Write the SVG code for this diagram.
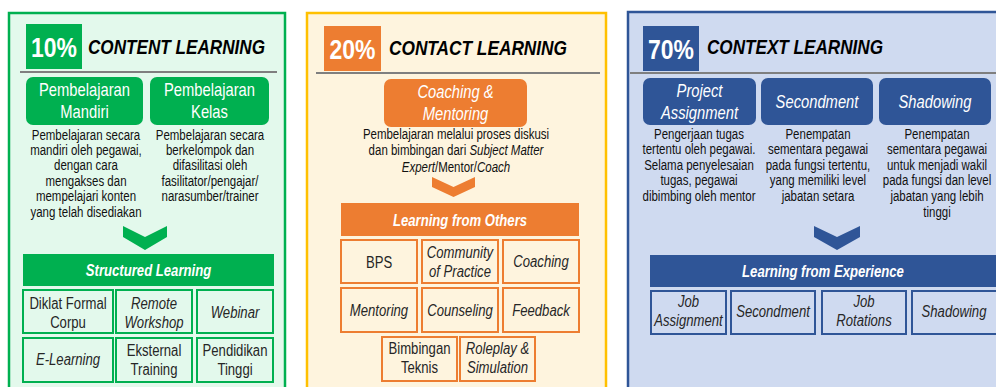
<svg xmlns="http://www.w3.org/2000/svg" width="996" height="387" viewBox="0 0 996 387">
<style>
text{font-family:"Liberation Sans",Arial,sans-serif;}
.pct{font-size:28px;font-weight:bold;fill:#fff;text-anchor:middle;}
.ttl{font-size:21px;font-weight:bold;font-style:italic;fill:#000;}
.btn{font-size:18px;fill:#fff;text-anchor:middle;}
.desc{font-size:14px;fill:#111;text-anchor:middle;}
.bar{font-size:16px;font-weight:bold;font-style:italic;fill:#fff;text-anchor:middle;}
.cell{font-size:16px;fill:#262626;text-anchor:middle;}
.it{font-style:italic;}
.sep{stroke:#7f7f7f;stroke-width:2;}
.gcell{fill:#e3f9ec;stroke:#00b050;stroke-width:2;}
.ocell{fill:#fef4de;stroke:#ed7d31;stroke-width:2;}
.bcell{fill:#cfdaf0;stroke:#2f5597;stroke-width:2;}
</style>
<rect width="996" height="387" fill="#fff"/>

<g id="panel-content">
<rect x="9" y="13" width="276" height="390" fill="#e3f9ec" stroke="#00b050" stroke-width="2.5"/>
<rect x="26" y="24" width="56" height="45" fill="#00b050"/>
<text class="pct" transform="translate(54,57) scale(.82,1)">10%</text>
<text class="ttl" x="88" y="54" textLength="177" lengthAdjust="spacingAndGlyphs">CONTENT LEARNING</text>
<line class="sep" x1="20" y1="72" x2="277" y2="72"/>
</g>
<g id="btn-mandiri">
<rect x="26" y="77" width="117" height="48" rx="7" fill="#00b050"/>
<text class="btn" transform="translate(84.5,96) scale(.82,1)">Pembelajaran</text>
<text class="btn" transform="translate(84.5,118) scale(.82,1)">Mandiri</text>
</g>
<g id="btn-kelas">
<rect x="150" y="77" width="119" height="48" rx="7" fill="#00b050"/>
<text class="btn" transform="translate(209.5,96) scale(.82,1)">Pembelajaran</text>
<text class="btn" transform="translate(209.5,118) scale(.82,1)">Kelas</text>
</g>
<g id="desc-mandiri">
<text class="desc" transform="translate(86,140) scale(.82,1)">Pembelajaran secara</text>
<text class="desc" transform="translate(86,155) scale(.82,1)">mandiri oleh pegawai,</text>
<text class="desc" transform="translate(86,170) scale(.82,1)">dengan cara</text>
<text class="desc" transform="translate(86,186) scale(.82,1)">mengakses dan</text>
<text class="desc" transform="translate(86,201) scale(.82,1)">mempelajari konten</text>
<text class="desc" transform="translate(86,217) scale(.82,1)">yang telah disediakan</text>
</g>
<g id="desc-kelas">
<text class="desc" transform="translate(210,140) scale(.82,1)">Pembelajaran secara</text>
<text class="desc" transform="translate(210,155) scale(.82,1)">berkelompok dan</text>
<text class="desc" transform="translate(210,170) scale(.82,1)">difasilitasi oleh</text>
<text class="desc" transform="translate(210,186) scale(.82,1)">fasilitator/pengajar/</text>
<text class="desc" transform="translate(210,201) scale(.82,1)">narasumber/trainer</text>
</g>
<g id="chev-green"><polygon points="123,226 145,237 167,226 167,237 145,250 123,237" fill="#00b050"/></g>
<g id="bar-structured">
<rect x="23" y="254" width="251" height="32" fill="#00b050"/>
<text class="bar" transform="translate(148.5,276) scale(.82,1)">Structured Learning</text>
</g>
<g id="c-diklat"><rect class="gcell" x="23" y="290" width="90" height="43"/><text class="cell" transform="translate(68,309) scale(.82,1)">Diklat Formal</text><text class="cell" transform="translate(68,328) scale(.82,1)">Corpu</text></g>
<g id="c-remote"><rect class="gcell" x="116" y="290" width="76" height="43"/><text class="cell it" transform="translate(154,309) scale(.82,1)">Remote</text><text class="cell it" transform="translate(154,328) scale(.82,1)">Workshop</text></g>
<g id="c-webinar"><rect class="gcell" x="197" y="290" width="76" height="43"/><text class="cell it" transform="translate(235,318) scale(.82,1)">Webinar</text></g>
<g id="c-elearning"><rect class="gcell" x="23" y="338" width="90" height="44"/><text class="cell it" transform="translate(68,365) scale(.82,1)">E-Learning</text></g>
<g id="c-eksternal"><rect class="gcell" x="116" y="338" width="76" height="44"/><text class="cell" transform="translate(154,356) scale(.82,1)">Eksternal</text><text class="cell" transform="translate(154,375) scale(.82,1)">Training</text></g>
<g id="c-pendidikan"><rect class="gcell" x="197" y="338" width="76" height="44"/><text class="cell" transform="translate(235,356) scale(.82,1)">Pendidikan</text><text class="cell" transform="translate(235,375) scale(.82,1)">Tinggi</text></g>

<g id="panel-contact">
<rect x="307" y="13" width="299" height="390" fill="#fef4de" stroke="#ffc000" stroke-width="2.5"/>
<rect x="324" y="26" width="57" height="45" fill="#ed7d31"/>
<text class="pct" transform="translate(352.5,59) scale(.82,1)">20%</text>
<text class="ttl" x="389" y="55" textLength="178" lengthAdjust="spacingAndGlyphs">CONTACT LEARNING</text>
<line class="sep" x1="316" y1="73" x2="600" y2="73"/>
</g>
<g id="btn-coaching">
<rect x="384" y="79" width="143" height="48" rx="7" fill="#ed7d31"/>
<text class="btn it" transform="translate(455.5,98) scale(.82,1)">Coaching &amp;</text>
<text class="btn it" transform="translate(455.5,120) scale(.82,1)">Mentoring</text>
</g>
<g id="desc-coaching">
<text class="desc" transform="translate(456,139) scale(.82,1)">Pembelajaran melalui proses diskusi</text>
<text class="desc" transform="translate(456,155) scale(.82,1)">dan bimbingan dari <tspan class="it">Subject Matter</tspan></text>
<text class="desc" transform="translate(456,172) scale(.82,1)"><tspan class="it">Expert</tspan>/Mentor/<tspan class="it">Coach</tspan></text>
</g>
<g id="chev-orange"><polygon points="432,177 453.5,187 475,177 475,187 453.5,197 432,187" fill="#ed7d31"/></g>
<g id="bar-others">
<rect x="341" y="203" width="238" height="33" fill="#ed7d31"/>
<text class="bar" transform="translate(460,226) scale(.82,1)">Learning from Others</text>
</g>
<g id="c-bps"><rect class="ocell" x="341" y="240" width="76" height="43"/><text class="cell" transform="translate(379,268) scale(.82,1)">BPS</text></g>
<g id="c-cop"><rect class="ocell" x="422" y="240" width="76" height="43"/><text class="cell it" transform="translate(460,258) scale(.82,1)">Community</text><text class="cell it" transform="translate(460,277) scale(.82,1)">of Practice</text></g>
<g id="c-coaching"><rect class="ocell" x="503" y="240" width="76" height="43"/><text class="cell it" transform="translate(541,267) scale(.82,1)">Coaching</text></g>
<g id="c-mentoring"><rect class="ocell" x="341" y="288" width="76" height="44"/><text class="cell it" transform="translate(379,316) scale(.82,1)">Mentoring</text></g>
<g id="c-counseling"><rect class="ocell" x="422" y="288" width="76" height="44"/><text class="cell it" transform="translate(460,316) scale(.82,1)">Counseling</text></g>
<g id="c-feedback"><rect class="ocell" x="503" y="288" width="76" height="44"/><text class="cell it" transform="translate(541,316) scale(.82,1)">Feedback</text></g>
<g id="c-bimtek"><rect class="ocell" x="382" y="337" width="75" height="44"/><text class="cell" transform="translate(419.5,354) scale(.82,1)">Bimbingan</text><text class="cell" transform="translate(419.5,373) scale(.82,1)">Teknis</text></g>
<g id="c-roleplay"><rect class="ocell" x="460" y="337" width="75" height="44"/><text class="cell it" transform="translate(497.5,354) scale(.82,1)">Roleplay &amp;</text><text class="cell it" transform="translate(497.5,373) scale(.82,1)">Simulation</text></g>

<g id="panel-context">
<rect x="628" y="12" width="380" height="390" fill="#cfdaf0" stroke="#2f5597" stroke-width="2.5"/>
<rect x="643" y="26" width="56" height="45" fill="#2f5597"/>
<text class="pct" transform="translate(671,59) scale(.82,1)">70%</text>
<text class="ttl" x="707" y="54" textLength="176" lengthAdjust="spacingAndGlyphs">CONTEXT LEARNING</text>
<line class="sep" x1="630" y1="73" x2="996" y2="73"/>
</g>
<g id="btn-project">
<rect x="643" y="78" width="113" height="47" rx="7" fill="#2f5597"/>
<text class="btn it" transform="translate(699.5,97) scale(.82,1)">Project</text>
<text class="btn it" transform="translate(699.5,119) scale(.82,1)">Assignment</text>
</g>
<g id="btn-secondment">
<rect x="761" y="78" width="112" height="47" rx="7" fill="#2f5597"/>
<text class="btn it" transform="translate(817,108) scale(.82,1)">Secondment</text>
</g>
<g id="btn-shadowing">
<rect x="879" y="78" width="112" height="47" rx="7" fill="#2f5597"/>
<text class="btn it" transform="translate(935,108) scale(.82,1)">Shadowing</text>
</g>
<g id="desc-project">
<text class="desc" transform="translate(699,139) scale(.82,1)">Pengerjaan tugas</text>
<text class="desc" transform="translate(699,154) scale(.82,1)">tertentu oleh pegawai.</text>
<text class="desc" transform="translate(699,170) scale(.82,1)">Selama penyelesaian</text>
<text class="desc" transform="translate(699,185) scale(.82,1)">tugas, pegawai</text>
<text class="desc" transform="translate(699,201) scale(.82,1)">dibimbing  oleh mentor</text>
</g>
<g id="desc-secondment">
<text class="desc" transform="translate(818,139) scale(.82,1)">Penempatan</text>
<text class="desc" transform="translate(818,154) scale(.82,1)">sementara pegawai</text>
<text class="desc" transform="translate(818,170) scale(.82,1)">pada fungsi tertentu,</text>
<text class="desc" transform="translate(818,185) scale(.82,1)">yang memiliki  level</text>
<text class="desc" transform="translate(818,201) scale(.82,1)">jabatan setara</text>
</g>
<g id="desc-shadowing">
<text class="desc" transform="translate(937,139) scale(.82,1)">Penempatan</text>
<text class="desc" transform="translate(937,154) scale(.82,1)">sementara pegawai</text>
<text class="desc" transform="translate(937,170) scale(.82,1)">untuk menjadi  wakil</text>
<text class="desc" transform="translate(937,185) scale(.82,1)">pada fungsi dan level</text>
<text class="desc" transform="translate(937,201) scale(.82,1)">jabatan yang lebih</text>
<text class="desc" transform="translate(937,217) scale(.82,1)">tinggi</text>
</g>
<g id="chev-blue"><polygon points="814,226 837,237 860,226 860,237 837,250 814,237" fill="#2f5597"/></g>
<g id="bar-experience">
<rect x="650" y="255" width="350" height="32" fill="#2f5597"/>
<text class="bar" transform="translate(823,277) scale(.82,1)">Learning from Experience</text>
</g>
<g id="c-jobassign"><rect class="bcell" x="651" y="291" width="75" height="43"/><text class="cell it" transform="translate(688.5,307) scale(.82,1)">Job</text><text class="cell it" transform="translate(688.5,326) scale(.82,1)">Assignment</text></g>
<g id="c-secondment"><rect class="bcell" x="731" y="291" width="84" height="43"/><text class="cell it" transform="translate(773,317) scale(.82,1)">Secondment</text></g>
<g id="c-jobrot"><rect class="bcell" x="822" y="291" width="84" height="43"/><text class="cell it" transform="translate(864,307) scale(.82,1)">Job</text><text class="cell it" transform="translate(864,326) scale(.82,1)">Rotations</text></g>
<g id="c-shadowing"><rect class="bcell" x="912" y="291" width="90" height="43"/><text class="cell it" transform="translate(954,317) scale(.82,1)">Shadowing</text></g>
</svg>
